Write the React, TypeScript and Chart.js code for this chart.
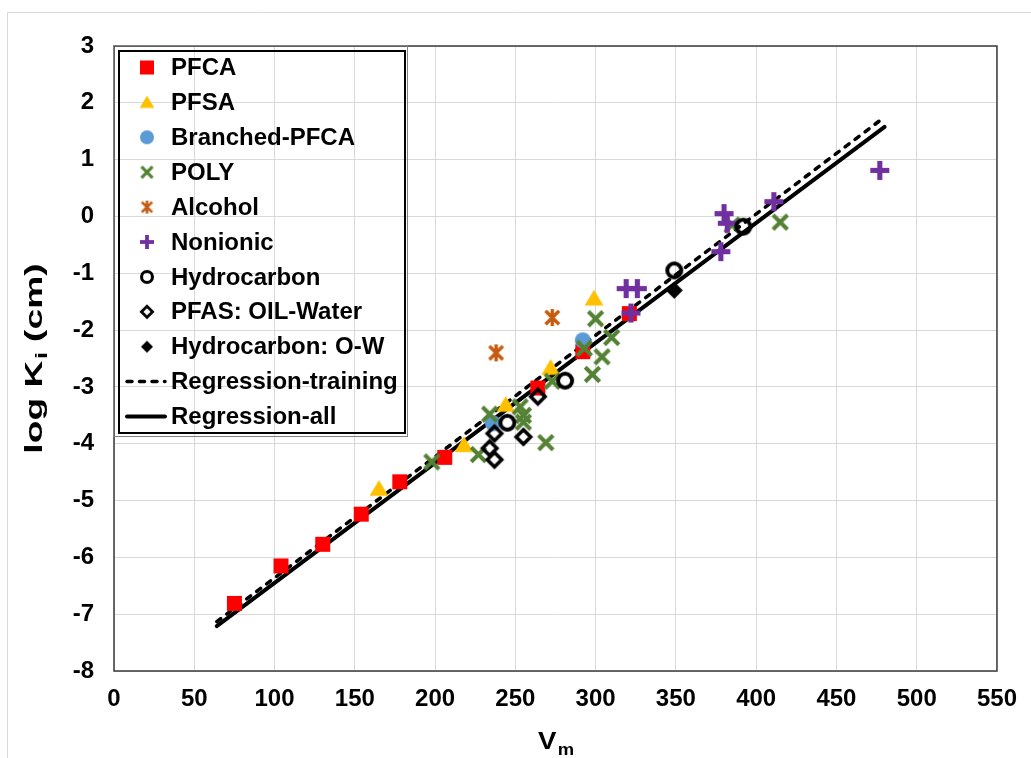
import React, { useEffect, useRef } from 'react';
import { Chart, registerables } from 'chart.js';
Chart.register(...registerables);

const W = 1031;
const H = 758;

const xTicks = [0, 50, 100, 150, 200, 250, 300, 350, 400, 450, 500, 550];
const yTicks = [-8, -7, -6, -5, -4, -3, -2, -1, 0, 1, 2, 3];

const pfcaX = [75, 104, 130, 154, 178, 206, 264, 292, 321];
const pfcaY = [-6.81, -6.15, -5.77, -5.24, -4.67, -4.24, -3.02, -2.38, -1.71];
const pfsaX = [165, 218, 244, 272, 299];
const pfsaY = [-4.79, -4.02, -3.31, -2.66, -1.44];
const branchedX = [236, 292];
const branchedY = [-3.64, -2.18];
const polyX = [198, 227, 234, 253, 255, 255, 269, 273, 293, 298, 300, 304, 310, 385, 415];
const polyY = [-4.32, -4.19, -3.48, -3.35, -3.5, -3.62, -3.98, -2.9, -2.32, -2.78, -1.8, -2.47, -2.13, -0.15, -0.1];
const alcoholX = [238, 273];
const alcoholY = [-2.4, -1.78];
const nonionicX = [319, 326, 322, 380, 382, 378, 411, 477];
const nonionicY = [-1.27, -1.27, -1.7, 0.05, -0.12, -0.62, 0.26, 0.81];
const hydrocarbonX = [245, 281, 349, 392];
const hydrocarbonY = [-3.63, -2.89, -0.95, -0.18];
const pfasOwX = [237, 234, 237, 255, 264];
const pfasOwY = [-3.82, -4.08, -4.28, -3.88, -3.17];
const hcOwX = [349];
const hcOwY = [-1.3];
const regTrainX = [64, 480];
const regTrainY = [-7.13, 1.75];
const regAllX = [64, 480];
const regAllY = [-7.21, 1.575];

const seriesNames = [
  'PFCA',
  'PFSA',
  'Branched-PFCA',
  'POLY',
  'Alcohol',
  'Nonionic',
  'Hydrocarbon',
  'PFAS: OIL-Water',
  'Hydrocarbon: O-W',
  'Regression-training',
  'Regression-all',
];

const FONT = '"Liberation Sans", Arial, sans-serif';

type Kind = 'square' | 'triangle' | 'circle' | 'x' | 'star' | 'plus' | 'ocircle' | 'odiamond' | 'fdiamond';

function makeMarker(kind: Kind, color: string, s: number): HTMLCanvasElement {
  const pad = 4;
  const size = Math.ceil(s + pad * 2);
  const c = document.createElement('canvas');
  c.width = size;
  c.height = size;
  const ctx = c.getContext('2d')!;
  const cx = size / 2;
  const cy = size / 2;
  const h = s / 2;
  ctx.fillStyle = color;
  ctx.strokeStyle = color;
  switch (kind) {
    case 'square':
      ctx.fillRect(cx - h, cy - h, s, s);
      break;
    case 'triangle':
      ctx.beginPath();
      ctx.moveTo(cx, cy - h * 0.95);
      ctx.lineTo(cx + h * 1.05, cy + h * 0.8);
      ctx.lineTo(cx - h * 1.05, cy + h * 0.8);
      ctx.closePath();
      ctx.fill();
      break;
    case 'circle':
      ctx.beginPath();
      ctx.arc(cx, cy, h, 0, Math.PI * 2);
      ctx.fill();
      break;
    case 'x': {
      ctx.lineWidth = s * 0.24;
      const d = h * 0.85;
      ctx.beginPath();
      ctx.moveTo(cx - d, cy - d);
      ctx.lineTo(cx + d, cy + d);
      ctx.moveTo(cx + d, cy - d);
      ctx.lineTo(cx - d, cy + d);
      ctx.stroke();
      break;
    }
    case 'star': {
      ctx.lineWidth = s * 0.2;
      const d = h * 0.8;
      ctx.beginPath();
      ctx.moveTo(cx - d, cy - d);
      ctx.lineTo(cx + d, cy + d);
      ctx.moveTo(cx + d, cy - d);
      ctx.lineTo(cx - d, cy + d);
      ctx.moveTo(cx, cy - h);
      ctx.lineTo(cx, cy + h);
      ctx.stroke();
      break;
    }
    case 'plus': {
      const t = s * 0.27;
      ctx.fillRect(cx - h, cy - t / 2, s, t);
      ctx.fillRect(cx - t / 2, cy - h, t, s);
      break;
    }
    case 'ocircle':
      ctx.lineWidth = s * 0.22;
      ctx.beginPath();
      ctx.arc(cx, cy, h - ctx.lineWidth / 2, 0, Math.PI * 2);
      ctx.stroke();
      break;
    case 'odiamond': {
      ctx.lineWidth = s * 0.2;
      const d = h - ctx.lineWidth / 2;
      ctx.beginPath();
      ctx.moveTo(cx, cy - d);
      ctx.lineTo(cx + d, cy);
      ctx.lineTo(cx, cy + d);
      ctx.lineTo(cx - d, cy);
      ctx.closePath();
      ctx.stroke();
      break;
    }
    case 'fdiamond':
      ctx.beginPath();
      ctx.moveTo(cx, cy - h);
      ctx.lineTo(cx + h, cy);
      ctx.lineTo(cx, cy + h);
      ctx.lineTo(cx - h, cy);
      ctx.closePath();
      ctx.fill();
      break;
  }
  return c;
}

function pts(xs: number[], ys: number[]) {
  return xs.map((x, i) => ({ x, y: ys[i] }));
}

export default function App() {
  const ref = useRef<HTMLCanvasElement>(null);

  useEffect(() => {
    const specs: [Kind, string, number, number][] = [
      ['square', '#ff0000', 15, 14],
      ['triangle', '#ffc000', 18, 14],
      ['circle', '#5b9bd5', 16, 14],
      ['x', '#548235', 17, 13],
      ['star', '#c55a11', 17, 13],
      ['plus', '#7030a0', 19, 14],
      ['ocircle', '#000000', 18, 14],
      ['odiamond', '#000000', 18, 14],
      ['fdiamond', '#000000', 17, 12],
    ];
    const markers = specs.map(([k, c, s]) => makeMarker(k, c, s));
    const legendMarkers = specs.map(([k, c, , ls]) => makeMarker(k, c, ls));

    const xs = [pfcaX, pfsaX, branchedX, polyX, alcoholX, nonionicX, hydrocarbonX, pfasOwX, hcOwX];
    const ys = [pfcaY, pfsaY, branchedY, polyY, alcoholY, nonionicY, hydrocarbonY, pfasOwY, hcOwY];

    const scatterSets: any[] = xs.map((xArr, i) => ({
      label: seriesNames[i],
      data: pts(xArr, ys[i]),
      pointStyle: markers[i],
      pointRadius: 6,
      pointHoverRadius: 6,
      showLine: false,
      order: -i,
    }));

    const lineSets: any[] = [
      {
        label: seriesNames[9],
        data: pts(regTrainX, regTrainY),
        showLine: true,
        borderColor: '#000000',
        borderWidth: 3.5,
        borderDash: [5, 7.5],
        borderCapStyle: 'round',
        pointRadius: 0,
        order: 100,
      },
      {
        label: seriesNames[10],
        data: pts(regAllX, regAllY),
        showLine: true,
        borderColor: '#000000',
        borderWidth: 4,
        borderCapStyle: 'round',
        pointRadius: 0,
        order: 101,
      },
    ];

    const decor = {
      id: 'decor',
      beforeDraw(chart: any) {
        const ctx = chart.ctx;
        ctx.save();
        ctx.fillStyle = '#ffffff';
        ctx.fillRect(0, 0, W, H);
        ctx.strokeStyle = '#d9d9d9';
        ctx.lineWidth = 1;
        ctx.beginPath();
        ctx.moveTo(7.5, H);
        ctx.lineTo(7.5, 12.5);
        ctx.lineTo(W, 12.5);
        ctx.stroke();
        ctx.restore();
      },
      beforeDatasetsDraw(chart: any) {
        const ctx = chart.ctx;
        const a = chart.chartArea;
        ctx.save();
        ctx.strokeStyle = '#3a3a3a';
        ctx.lineWidth = 1.5;
        ctx.strokeRect(a.left, a.top, a.right - a.left, a.bottom - a.top);
        ctx.restore();
      },
      afterDatasetsDraw(chart: any) {
        const ctx = chart.ctx;
        const a = chart.chartArea;
        ctx.save();
        ctx.strokeStyle = '#808080';
        ctx.lineWidth = 1;
        ctx.strokeRect(a.left - 0.5, a.top - 0.5, 408 - a.left, 437 - a.top);
        ctx.strokeStyle = '#000000';
        ctx.lineWidth = 2;
        ctx.strokeRect(119, 51, 405 - 119, 433 - 51);
        ctx.fillStyle = '#000000';
        ctx.font = `bold 24px ${FONT}`;
        ctx.textBaseline = 'middle';
        ctx.textAlign = 'left';
        for (let i = 0; i < seriesNames.length; i++) {
          const y = 67.5 + i * 34.9;
          if (i < 9) {
            const m = legendMarkers[i];
            ctx.drawImage(m, 147 - m.width / 2, y - m.height / 2);
          } else if (i === 9) {
            ctx.strokeStyle = '#000';
            ctx.lineWidth = 3.5;
            ctx.lineCap = 'round';
            ctx.setLineDash([5, 7.5]);
            ctx.beginPath();
            ctx.moveTo(127, y);
            ctx.lineTo(165, y);
            ctx.stroke();
            ctx.setLineDash([]);
          } else {
            ctx.strokeStyle = '#000';
            ctx.lineWidth = 4;
            ctx.lineCap = 'round';
            ctx.beginPath();
            ctx.moveTo(127, y);
            ctx.lineTo(165, y);
            ctx.stroke();
          }
          ctx.fillText(seriesNames[i], 171, y + 1);
        }
        ctx.restore();
      },
      afterDraw(chart: any) {
        const ctx = chart.ctx;
        const a = chart.chartArea;
        ctx.save();
        ctx.fillStyle = '#000000';
        ctx.textBaseline = 'alphabetic';
        ctx.textAlign = 'left';
        const big = `bold 24px ${FONT}`;
        const small = `bold 16px ${FONT}`;
        // x title
        ctx.save();
        const cx = (a.left + a.right) / 2;
        ctx.translate(cx, 0);
        ctx.scale(1.15, 1);
        ctx.font = big;
        const wV = ctx.measureText('V').width;
        ctx.font = small;
        const wm = ctx.measureText('m').width;
        const x0 = -(wV + wm) / 2;
        ctx.font = big;
        ctx.fillText('V', x0, 749);
        ctx.font = small;
        ctx.fillText('m', x0 + wV + 1, 755);
        ctx.restore();
        // y title (stretched along its length, as in the reference)
        const cy = (a.top + a.bottom) / 2;
        ctx.translate(33, cy);
        ctx.rotate(-Math.PI / 2);
        ctx.scale(1.55, 1);
        ctx.font = big;
        const w1 = ctx.measureText('log K').width;
        const w3 = ctx.measureText(' (cm)').width;
        ctx.font = small;
        const w2 = ctx.measureText('i').width;
        const total = w1 + w2 + w3 + 1;
        let p = -total / 2;
        ctx.font = big;
        ctx.fillText('log K', p, 8.5);
        p += w1 + 1;
        ctx.font = small;
        ctx.fillText('i', p, 14);
        p += w2;
        ctx.font = big;
        ctx.fillText(' (cm)', p, 8.5);
        ctx.restore();
      },
    };

    const chart = new Chart(ref.current!, {
      type: 'scatter',
      data: { datasets: [...scatterSets, ...lineSets] },
      options: {
        responsive: false,
        animation: false,
        layout: { padding: { top: 46, right: 32, left: 0, bottom: 0 } },
        plugins: { legend: { display: false }, tooltip: { enabled: false } },
        scales: {
          x: {
            type: 'linear',
            min: xTicks[0],
            max: xTicks[xTicks.length - 1],
            afterBuildTicks: (s: any) => {
              s.ticks = xTicks.map((v) => ({ value: v }));
            },
            ticks: { color: '#000', font: { family: FONT, size: 24, weight: 'bold' }, padding: 14 },
            grid: { color: '#d9d9d9', lineWidth: 1, drawTicks: false },
            border: { display: false },
            afterFit: (s: any) => {
              s.height = 87;
            },
          },
          y: {
            type: 'linear',
            min: yTicks[0],
            max: yTicks[yTicks.length - 1],
            afterBuildTicks: (s: any) => {
              s.ticks = yTicks.map((v) => ({ value: v }));
            },
            ticks: { color: '#000', font: { family: FONT, size: 24, weight: 'bold' }, padding: 20 },
            grid: { color: '#d9d9d9', lineWidth: 1, drawTicks: false },
            border: { display: false },
            afterFit: (s: any) => {
              s.width = 114;
            },
          },
        },
      } as any,
      plugins: [decor],
    });
    return () => chart.destroy();
  }, []);

  return (
    <div style={{ position: 'fixed', left: 0, top: 0, width: W, height: H, background: '#fff' }}>
      <canvas ref={ref} width={W} height={H} style={{ width: W, height: H, display: 'block' }} />
    </div>
  );
}
